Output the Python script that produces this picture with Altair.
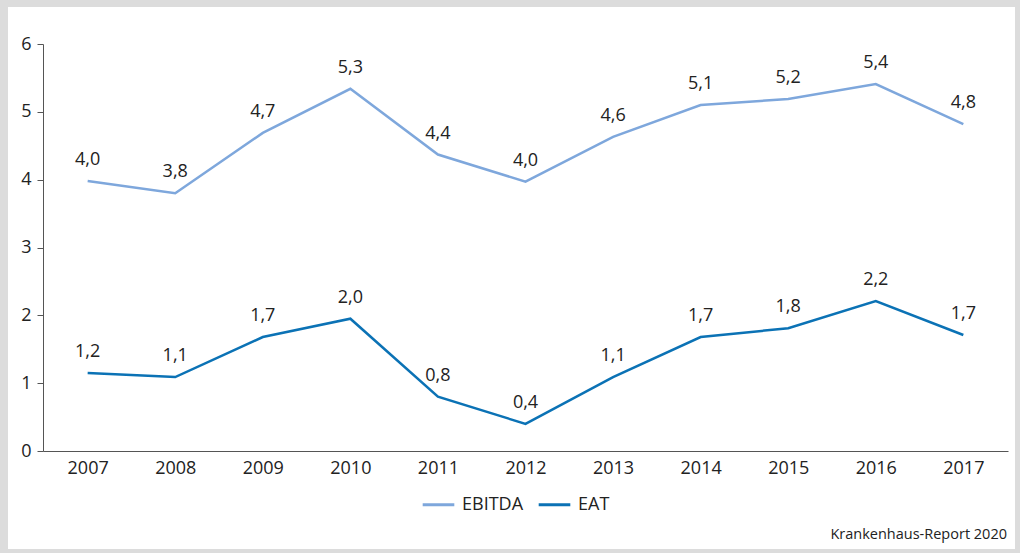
import altair as alt
import pandas as pd

years = ["2007", "2008", "2009", "2010", "2011", "2012", "2013", "2014", "2015", "2016", "2017"]
ebitda = [3.98, 3.80, 4.69, 5.34, 4.37, 3.97, 4.63, 5.10, 5.19, 5.41, 4.82]
ebitda_labels = ["4,0", "3,8", "4,7", "5,3", "4,4", "4,0", "4,6", "5,1", "5,2", "5,4", "4,8"]
eat = [1.15, 1.09, 1.68, 1.95, 0.80, 0.40, 1.09, 1.68, 1.81, 2.21, 1.71]
eat_labels = ["1,2", "1,1", "1,7", "2,0", "0,8", "0,4", "1,1", "1,7", "1,8", "2,2", "1,7"]
series = ["EBITDA", "EAT"]
colors = ["#7ea7dc", "#0b72b5"]
source = "Krankenhaus-Report 2020"

rows = []
for y, v, l in zip(years, ebitda, ebitda_labels):
    rows.append({"Jahr": y, "Wert": v, "Label": l, "Serie": "EBITDA"})
for y, v, l in zip(years, eat, eat_labels):
    rows.append({"Jahr": y, "Wert": v, "Label": l, "Serie": "EAT"})
df = pd.DataFrame(rows)

W, H = 965, 407
FONT = "Open Sans"
FS = 18

x = alt.X("Jahr:O", scale=alt.Scale(type="point", padding=0.51),
          axis=alt.Axis(title=None, labelAngle=0, ticks=False, labelFontSize=FS,
                        labelPadding=8, domainColor="#555", labelColor="#222", labelFont=FONT,
                        zindex=2))
y = alt.Y("Wert:Q", scale=alt.Scale(domain=[0, 6], nice=False),
          axis=alt.Axis(title=None, values=[0, 1, 2, 3, 4, 5, 6], grid=False, tickSize=6,
                        tickColor="#555", domainColor="#555", labelFontSize=FS, labelPadding=6,
                        labelColor="#222", labelFont=FONT, zindex=2))
color = alt.Color("Serie:N", sort=series, scale=alt.Scale(domain=series, range=colors),
                  legend=alt.Legend(title=None, orient="none", direction="horizontal",
                                    legendX=378, legendY=443, symbolType="stroke",
                                    symbolStrokeWidth=3, symbolSize=1000, labelFontSize=FS,
                                    labelFont=FONT, labelColor="#222", columnPadding=8,
                                    symbolOffset=0, labelOffset=6))

frame = alt.Chart(pd.DataFrame({"a": [0]})).mark_rect(color="white").encode(
    x=alt.value(-35), x2=alt.value(972), y=alt.value(-37), y2=alt.value(505))

lines = alt.Chart(df).mark_line(strokeWidth=2.5).encode(x=x, y=y, color=color)
labels = alt.Chart(df).mark_text(dy=-21, fontSize=FS, font=FONT, color="#222").encode(
    x=x, y=y, text="Label:N")
src = alt.Chart(pd.DataFrame({"t": [source]})).mark_text(
    align="right", baseline="alphabetic", fontSize=14.5, font=FONT, color="#222").encode(
    x=alt.value(964), y=alt.value(495), text="t:N")

chart = alt.layer(frame, lines, labels, src).properties(
    width=W, height=H, background="#dcdcdc",
    padding={"left": 43, "top": 44, "right": 12, "bottom": 102},
    autosize=alt.AutoSizeParams(type="none"),
).configure_view(stroke=None)

chart.save("out.html", embed_options={"renderer": "svg", "actions": False})
